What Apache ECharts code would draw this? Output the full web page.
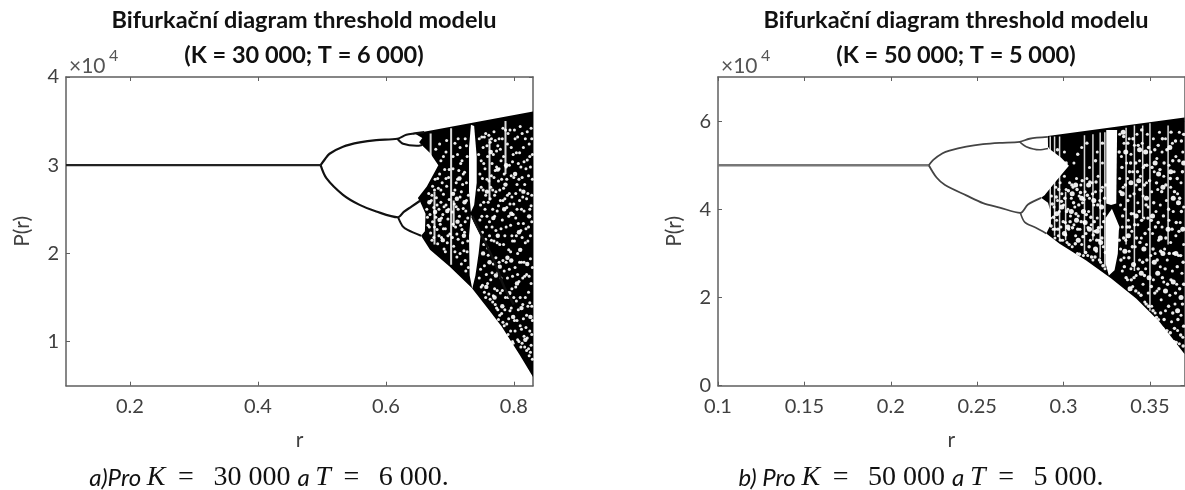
<!DOCTYPE html>
<html><head><meta charset="utf-8">
<style>html,body{margin:0;padding:0;background:#fff}#c{width:1185px;height:490px;filter:blur(0.4px)}</style>
<script src="https://cdn.jsdelivr.net/npm/echarts@6/dist/echarts.min.js"></script>
</head><body><div id="c"></div>
<script>
// ---------- text ----------
const chartTitle = 'Bifurkační diagram threshold modelu';
const subtitleA = '(K = 30 000; T = 6 000)';
const subtitleB = '(K = 50 000; T = 5 000)';
// ---------- ticks ----------
const xTicksA = [0.2, 0.4, 0.6, 0.8];
const yTicksA = [1, 2, 3, 4];
const xTicksB = [0.1, 0.15, 0.2, 0.25, 0.3, 0.35];
const yTicksB = [0, 2, 4, 6];
// ---------- panel a: branches (P in units of 10^4) ----------
const stemA = [[0.1,3],[0.2,3],[0.3,3],[0.4,3],[0.498,3]];
const upperBranchA = [[0.498,3],[0.505,3.07],[0.512,3.13],[0.533,3.21],[0.559,3.258],[0.585,3.285],[0.618,3.30],[0.632,3.345],[0.645,3.36],[0.66,3.375]];
const lowerBranchA = [[0.498,3],[0.507,2.853],[0.533,2.664],[0.559,2.55],[0.585,2.475],[0.619,2.41],[0.628,2.47],[0.64,2.53],[0.654,2.60]];
const subUpperA = [[0.618,3.30],[0.627,3.243],[0.648,3.22],[0.657,3.23]];
const subLowerA = [[0.619,2.41],[0.626,2.31],[0.634,2.267],[0.655,2.2]];
// ---------- panel a: chaotic band outlines ----------
const bandTopA = [[0.645,3.36],[0.83,3.61],[0.83,0.6],[0.81,0.84],[0.781,1.17],[0.76,1.37],[0.734,1.61],[0.70,1.85],[0.669,2.04],[0.655,2.2],[0.661,2.25],[0.662,2.45],[0.654,2.58],[0.65,2.627],[0.664,2.759],[0.682,3.0],[0.669,3.137],[0.656,3.23],[0.652,3.26],[0.657,3.307]];
const windowUpperA = [[0.733,3.46],[0.738,3.445],[0.742,3.1],[0.742,2.8],[0.738,2.55],[0.733,2.47],[0.730,2.7],[0.730,3.2]];
const windowLowerA = [[0.733,2.44],[0.737,2.36],[0.748,2.2],[0.745,2.0],[0.74,1.75],[0.735,1.6],[0.731,1.75],[0.730,2.2]];
const streaksA = [[0.670,2.95,3.36],[0.702,2.4,3.42],[0.702,1.87,2.4],[0.676,2.1,2.7],[0.787,2.9,3.5],[0.706,2.3,2.6],[0.762,2.6,3.3]];
const darkCurveA = [[0.735,2.42],[0.75,2.2],[0.77,1.9],[0.785,1.62],[0.80,1.42]];
const speckSmallA = [
[.664,2.5],[.666,2.32],[.667,2.68],[.669,2.44],[.670,2.23],[.671,2.6],[.673,2.36],[.673,2.76],[.675,2.18],[.675,2.52],[.677,2.84],[.678,2.41],[.679,2.63],[.680,2.27],[.681,2.11],[.682,2.74],[.683,2.5],[.684,2.9],[.685,2.33],[.686,2.58],[.687,2.18],[.688,2.8],[.689,2.44],[.690,2.67],[.691,2.05],[.692,2.95],[.693,2.28],[.694,2.55],[.695,2.76],[.696,2.12],[.697,2.39],[.698,2.86],[.699,2.61],[.700,2.22],[.704,2.47],[.705,2.96],[.706,2.08],[.708,2.72],[.709,2.3],[.710,2.53],[.711,1.96],[.712,2.84],[.713,2.16],[.715,2.42],[.716,2.64],[.717,3.02],[.718,1.88],[.719,2.27],[.720,2.78],[.721,2.51],[.722,2.03],[.723,2.92],[.724,2.36],[.725,1.8],[.726,2.6],[.727,3.1],[.728,2.14],[.716,3.2],[.690,3.1],[.708,3.25],[.695,3.28],[.724,3.3],[.678,3.18],[.712,3.12],
[.746,3.3],[.747,2.9],[.748,2.55],[.748,1.82],[.749,3.05],[.750,2.42],[.751,1.64],[.752,3.2],[.752,2.72],[.753,2.1],[.754,1.56],[.755,2.96],[.755,2.5],[.756,3.36],[.757,1.76],[.757,2.3],[.758,2.84],[.759,3.1],[.760,1.98],[.760,2.58],[.761,1.54],[.762,2.36],[.763,3.26],[.764,1.7],[.764,2.75],[.765,2.15],[.766,3.02],[.767,1.45],[.767,2.5],[.768,1.88],[.769,3.38],[.770,2.66],[.770,1.6],[.771,2.94],[.772,2.26],[.773,1.38],[.773,3.16],[.774,2.48],[.775,1.78],[.776,2.82],[.776,1.25],[.777,3.3],[.778,2.1],[.779,1.55],[.779,2.6],[.780,3.05],[.781,1.32],[.782,2.38],[.783,1.92],[.783,3.42],[.784,2.74],[.785,1.18],[.786,2.2],[.787,1.5],[.788,2.98],[.789,2.52],[.790,1.72],[.790,3.24],[.791,1.08],[.792,2.04],[.793,2.68],[.794,1.35],[.794,3.4],[.795,2.32],[.796,2.88],[.797,1.6],[.798,1.0],[.798,2.14],[.799,3.12],[.800,2.56],[.801,1.24],[.802,1.84],[.802,3.3],[.803,2.4],[.804,1.46],[.805,2.78],[.806,1.02],[.806,2.0],[.807,3.02],[.808,1.68],[.809,2.6],[.810,1.18],[.810,3.44],[.811,2.26],[.812,1.9],[.813,.98],[.813,2.86],[.814,1.42],[.815,3.2],[.816,2.48],[.816,1.06],[.817,1.74],[.818,2.12],[.819,2.96],[.820,.9],[.820,1.3],[.821,3.38],[.822,2.68],[.823,1.56],[.823,2.3],[.824,.84],[.825,1.12],[.825,3.1],[.826,1.94],[.827,2.54],[.827,.96],[.828,1.4],[.828,3.3],[.829,2.84]];
const speckLargeA = [
[.705,2.675],[.711,2.62],[.668,2.58],[.684,2.38],[.696,2.48],[.712,2.36],[.722,2.2],[.689,2.15],[.715,2.85],[.677,2.47],[.723,2.58],
[.752,2.0],[.758,2.7],[.762,1.9],[.768,2.4],[.772,1.75],[.775,2.95],[.778,1.85],[.782,1.4],[.785,2.5],[.788,3.0],[.790,1.95],[.793,1.55],[.796,2.45],[.799,1.28],[.802,2.9],[.805,1.66],[.808,2.24],[.812,1.38],[.815,2.7],[.818,1.02],[.821,1.88],[.824,2.42],[.826,1.28],[.775,2.2],[.764,3.15],[.787,2.78],[.770,1.5],[.796,1.92],[.810,2.04],[.757,1.62]];
const speckExtraA = [
[.665,2.41],[.668,2.3],[.672,2.15],[.672,2.66],[.676,2.3],[.676,2.72],[.680,2.55],[.681,2.85],[.683,2.2],[.686,2.72],[.687,2.4],[.690,2.28],[.691,2.53],[.693,2.02],[.694,2.85],[.697,2.2],[.698,2.5],[.699,2.95],[.704,2.18],[.705,2.33],[.707,2.56],[.708,2.02],[.710,2.8],[.711,2.22],[.713,2.5],[.714,2.94],[.716,2.0],[.717,2.32],[.718,2.7],[.720,2.12],[.721,2.9],[.723,2.24],[.724,1.92],[.725,2.48],[.726,2.8],[.727,2.02],[.728,2.4],[.729,1.84],[.729,2.66],[.686,3.05],[.694,3.15],[.705,3.1],[.713,3.3],[.719,3.05],[.726,3.22],[.684,3.24],
[.745,3.12],[.745,2.72],[.746,1.72],[.747,2.38],[.749,2.75],[.749,1.62],[.750,3.32],[.751,2.85],[.751,2.24],[.753,3.02],[.753,2.58],[.754,1.86],[.754,3.32],[.756,2.66],[.756,2.16],[.756,1.5],[.758,3.22],[.758,2.42],[.759,1.66],[.759,2.06],[.761,2.82],[.761,3.34],[.762,2.2],[.763,2.62],[.763,1.48],[.765,3.3],[.765,2.88],[.766,1.78],[.766,2.3],[.767,2.72],[.768,3.12],[.768,1.52],[.769,2.14],[.769,2.86],[.770,2.42],[.771,1.42],[.771,3.28],[.772,1.95],[.772,2.7],[.773,2.98],[.774,1.58],[.774,2.12],[.775,3.22],[.775,1.36],[.776,2.54],[.777,1.9],[.777,2.96],[.778,1.3],[.778,2.72],[.779,3.18],[.780,2.28],[.780,1.72],[.781,2.84],[.782,1.58],[.782,3.3],[.783,2.6],[.783,1.22],[.784,2.1],[.784,3.1],[.785,1.8],[.785,2.9],[.786,1.36],[.786,2.62],[.787,3.4],[.788,1.9],[.788,2.3],[.789,1.2],[.789,2.84],[.790,2.66],[.791,1.5],[.791,3.36],[.792,2.42],[.792,1.26],[.793,3.0],[.793,1.82],[.794,2.56],[.795,1.12],[.795,2.02],[.796,3.2],[.796,1.38],[.797,2.64],[.797,2.2],[.798,1.74],[.798,3.04],[.799,2.44],[.799,.98],[.800,1.5],[.800,2.86],[.801,2.14],[.801,3.4],[.802,1.12],[.803,2.68],[.803,1.62],[.804,3.14],[.804,2.2],[.805,1.24],[.805,2.5],[.806,1.76],[.806,3.32],[.807,2.34],[.807,1.36],[.808,2.84],[.808,1.0],[.809,1.9],[.809,3.14],[.810,1.5],[.810,2.72],[.811,.94],[.811,2.98],[.812,2.5],[.812,1.14],[.813,2.18],[.813,3.36],[.814,1.72],[.814,2.64],[.815,1.26],[.815,2.34],[.816,3.04],[.816,1.9],[.817,.94],[.817,2.78],[.818,1.5],[.818,3.3],[.819,2.28],[.819,1.16],[.820,2.62],[.820,1.76],[.821,1.04],[.821,3.06],[.822,1.4],[.822,2.14],[.823,2.88],[.823,.92],[.824,1.74],[.824,3.24],[.825,2.5],[.825,1.44],[.826,2.2],[.826,.88],[.826,2.98],[.827,1.66],[.827,3.42],[.828,2.36],[.828,1.08],[.828,2.66],[.829,1.84],[.829,.8],[.829,3.12],[.829,1.24]];
// ---------- panel b: branches ----------
const stemB = [[0.1,5],[0.15,5],[0.2,5],[0.222,5]];
const upperBranchB = [[0.222,5],[0.2246,5.12],[0.23,5.27],[0.234,5.33],[0.2437,5.42],[0.2534,5.476],[0.263,5.507],[0.2746,5.53],[0.2803,5.6],[0.2909,5.64]];
const lowerBranchB = [[0.222,5],[0.2265,4.72],[0.2314,4.55],[0.2437,4.315],[0.2534,4.14],[0.263,4.04],[0.275,3.92],[0.2794,4.11],[0.287,4.26]];
const subUpperB = [[0.2746,5.53],[0.2784,5.42],[0.286,5.35],[0.291,5.38]];
const subLowerB = [[0.275,3.92],[0.2775,3.71],[0.284,3.58],[0.29,3.45]];
// ---------- panel b: chaotic band outlines ----------
const bandTopB = [[0.2909,5.66],[0.37,6.08],[0.37,0.72],[0.3555,1.45],[0.342,1.98],[0.3276,2.43],[0.3131,2.84],[0.2977,3.22],[0.29,3.45],[0.2925,3.65],[0.2925,3.95],[0.291,4.15],[0.287,4.26],[0.289,4.32],[0.2958,4.65],[0.3031,4.99],[0.2986,5.17],[0.2919,5.37],[0.291,5.42]];
const windowUpperB = [[0.3247,5.8],[0.331,5.8],[0.3305,4.13],[0.3275,4.1],[0.3247,4.13]];
const windowLowerB = [[0.3243,3.8],[0.328,4.01],[0.3324,3.6],[0.332,3.52],[0.3314,2.99],[0.3295,2.62],[0.3262,2.5],[0.3243,2.77]];
const streaksB = [[0.2923,3.6,5.65],[0.2948,3.4,5.65],[0.2977,3.3,5.65],[0.3121,3.0,5.68],[0.317,3.3,5.7],[0.3212,2.9,5.74],[0.3239,2.7,5.75],[0.3362,3.2,5.85],[0.341,2.6,5.9],[0.3458,3.8,5.9],[0.35,1.7,5.95],[0.3012,3.3,4.4],[0.3605,3.2,5.9]];
const speckSmallB = [
[.2925,3.8],[.293,4.3],[.294,3.55],[.2945,4.05],[.295,3.35],[.2955,4.5],[.296,3.75],[.2965,4.2],[.297,3.4],[.2975,3.95],[.298,4.6],[.2985,3.6],[.299,4.35],[.2995,3.3],[.300,4.1],[.3005,4.75],[.301,3.7],[.3015,4.45],[.302,3.25],[.3025,4.0],[.303,3.55],[.3035,4.6],[.304,3.85],[.3045,4.25],[.305,3.15],[.3055,4.5],[.306,3.65],[.3065,4.05],[.307,3.4],[.3075,4.7],[.308,3.0],[.3085,3.85],[.309,4.3],[.3095,3.55],[.310,4.55],[.3105,3.2],[.311,4.15],[.3115,2.95],[.312,3.7],[.3125,4.4],[.313,3.45],[.3135,4.7],[.314,2.95],[.3145,3.95],[.315,4.25],[.3155,3.3],[.316,3.65],[.3165,4.6],[.317,2.85],[.3175,4.1],[.318,3.5],[.3185,4.4],[.319,3.05],[.3195,3.8],[.320,4.75],[.3205,3.3],[.321,4.2],[.3215,2.8],[.322,3.6],[.3225,4.5],[.323,3.15],[.3235,3.9],[.324,2.65],[.2955,5.0],[.3005,5.3],[.306,5.05],[.3105,5.4],[.315,4.95],[.3195,5.3],[.3225,5.05],
[.3325,5.7],[.3325,4.7],[.333,3.1],[.333,4.1],[.3335,5.2],[.334,2.6],[.334,3.6],[.3345,4.5],[.335,5.5],[.335,2.9],[.3355,4.0],[.336,3.3],[.3365,5.05],[.337,2.4],[.337,4.7],[.3375,3.75],[.338,5.6],[.338,3.05],[.3385,4.3],[.339,2.65],[.339,5.25],[.3395,3.5],[.340,4.85],[.340,2.25],[.3405,3.9],[.341,5.45],[.3415,3.15],[.342,4.55],[.342,2.5],[.3425,5.7],[.343,3.65],[.343,4.15],[.3435,2.1],[.344,5.1],[.344,2.85],[.3445,4.75],[.345,3.35],[.3455,5.5],[.346,2.3],[.346,4.3],[.3465,3.8],[.347,1.9],[.347,5.0],[.3475,2.65],[.348,4.6],[.348,3.2],[.3485,5.7],[.349,4.05],[.349,2.1],[.3495,3.55],[.3505,2.95],[.3505,5.3],[.351,1.8],[.351,4.4],[.3515,3.45],[.352,5.6],[.352,2.4],[.3525,4.85],[.353,3.0],[.353,1.65],[.3535,3.95],[.354,5.15],[.354,2.15],[.3545,4.45],[.355,3.3],[.355,1.5],[.3555,5.75],[.356,2.7],[.356,4.1],[.3565,1.95],[.357,3.6],[.357,5.3],[.3575,1.3],[.358,4.75],[.358,2.35],[.3585,3.1],[.359,5.6],[.359,1.7],[.3595,4.2],[.360,2.85],[.3605,1.15],[.361,3.75],[.361,5.0],[.3615,2.05],[.362,4.5],[.362,3.25],[.3625,1.45],[.363,5.5],[.363,2.6],[.3635,3.95],[.364,1.0],[.364,4.85],[.3645,1.85],[.365,3.4],[.365,5.2],[.3655,2.3],[.366,4.35],[.366,1.25],[.3665,2.95],[.367,5.75],[.367,.95],[.3675,3.7],[.368,1.6],[.368,4.6],[.3685,2.55],[.369,5.3],[.369,1.1],[.3695,3.2],[.3695,4.05]];
const speckLargeB = [
[.296,3.9],[.299,4.05],[.3025,3.6],[.305,4.35],[.3075,3.75],[.3105,4.25],[.3125,3.7],[.315,3.55],[.3175,4.2],[.3195,3.5],[.322,4.05],[.3085,3.3],[.3145,4.55],[.3005,3.45],[.3185,3.1],[.3115,3.95],[.3045,3.95],[.3215,3.25],[.307,4.55],
[.334,4.35],[.336,5.3],[.3375,3.4],[.339,4.6],[.3405,2.75],[.342,3.85],[.344,5.35],[.345,2.55],[.3465,3.1],[.348,4.25],[.3495,2.45],[.3515,3.85],[.353,5.05],[.3545,2.55],[.356,3.35],[.3575,4.5],[.359,2.15],[.3605,3.55],[.362,4.85],[.3635,2.35],[.365,3.0],[.3665,4.15],[.368,2.0],[.3695,5.05],[.3355,3.05],[.3385,2.2],[.3435,4.65],[.3475,5.3],[.3525,2.8],[.3575,3.0],[.3615,5.4],[.366,1.7],[.369,3.55],[.3345,5.75],[.355,4.8],[.3635,4.25]];
const speckExtraB = [
[.2928,3.62],[.2935,4.12],[.2942,3.82],[.2952,3.55],[.2958,4.28],[.2968,3.55],[.2972,4.45],[.2982,3.3],[.2988,4.18],[.2998,3.72],[.3008,4.25],[.3012,3.42],[.3018,3.95],[.3028,4.42],[.3032,3.2],[.3038,3.72],[.3048,4.55],[.3052,3.58],[.3058,4.15],[.3068,3.22],[.3072,3.9],[.3078,4.45],[.3082,3.55],[.3088,4.1],[.3092,2.98],[.3098,4.38],[.3102,3.72],[.3108,4.65],[.3112,3.38],[.3118,4.22],[.3128,3.02],[.3132,3.88],[.3138,4.32],[.3142,3.58],[.3148,3.15],[.3152,4.62],[.3158,3.82],[.3162,2.92],[.3168,4.35],[.3172,3.42],[.3178,3.72],[.3182,2.92],[.3188,4.62],[.3192,3.3],[.3198,4.1],[.3202,3.58],[.3208,2.85],[.3218,4.42],[.3222,3.35],[.3228,2.72],[.3232,3.72],[.3238,4.25],[.3242,3.02],[.3245,4.55],[.3015,5.05],[.3082,5.25],[.3135,5.5],[.3185,5.1],[.2965,5.35],[.3225,5.5],
[.3322,5.3],[.3322,3.3],[.3328,4.4],[.3332,2.85],[.3338,4.95],[.3342,3.85],[.3348,3.35],[.3348,5.65],[.3352,2.7],[.3358,4.55],[.3362,2.45],[.3368,3.6],[.3372,5.5],[.3372,4.2],[.3378,2.9],[.3382,4.85],[.3382,3.6],[.3388,5.05],[.3392,2.4],[.3392,3.9],[.3398,3.15],[.3402,5.6],[.3408,4.35],[.3408,2.45],[.3412,3.65],[.3418,5.05],[.3418,2.15],[.3422,3.35],[.3428,4.85],[.3432,2.65],[.3432,5.45],[.3438,3.95],[.3442,3.25],[.3442,4.45],[.3448,2.05],[.3452,5.8],[.3452,3.75],[.3458,2.8],[.3462,4.95],[.3468,2.5],[.3468,4.55],[.3472,3.45],[.3478,1.85],[.3478,4.1],[.3482,5.0],[.3482,2.85],[.3488,3.8],[.3492,5.4],[.3492,1.8],[.3498,4.65],[.3508,2.25],[.3508,3.75],[.3512,4.95],[.3518,1.7],[.3518,3.1],[.3522,4.15],[.3528,2.1],[.3528,5.35],[.3532,3.6],[.3538,1.55],[.3538,4.6],[.3542,2.85],[.3548,5.45],[.3548,3.7],[.3552,2.2],[.3558,4.9],[.3562,1.65],[.3562,3.05],[.3568,4.4],[.3572,2.45],[.3572,5.6],[.3578,3.85],[.3582,1.5],[.3582,5.05],[.3588,2.65],[.3592,4.55],[.3592,3.35],[.3598,1.25],[.3598,5.35],[.3602,2.3],[.3608,4.0],[.3608,1.8],[.3612,3.0],[.3618,4.7],[.3618,1.2],[.3622,5.75],[.3622,2.4],[.3628,3.55],[.3632,1.65],[.3632,5.1],[.3638,3.0],[.3642,4.4],[.3642,1.3],[.3648,2.1],[.3648,5.55],[.3652,3.7],[.3652,.98],[.3658,2.7],[.3658,4.7],[.3662,1.5],[.3668,3.5],[.3668,5.1],[.3672,2.2],[.3672,4.25],[.3678,1.15],[.3678,2.95],[.3682,5.55],[.3682,3.95],[.3688,1.85],[.3688,4.85],[.3692,2.8],[.3692,.9],[.3695,5.7],[.3695,1.35],[.3695,2.3]];

// ---------- helpers ----------
const polygon = (pts, color, x, y, z) => ({
  type:'custom', xAxisIndex:x, yAxisIndex:y, data:pts, z, silent:true, clip:true,
  renderItem:(p, api) => p.dataIndex === 0
    ? {type:'polygon', shape:{points:pts.map(d => api.coord(d))}, style:{fill:color}}
    : null
});
const streakSeries = (rows, x, y, width) => ({
  type:'custom', xAxisIndex:x, yAxisIndex:y, data:rows, z:4, silent:true, clip:true,
  renderItem:(p, api) => {
    const a = api.coord([api.value(0), api.value(1)]);
    const b = api.coord([api.value(0), api.value(2)]);
    return {type:'line', shape:{x1:a[0],y1:a[1],x2:b[0],y2:b[1]}, style:{stroke:'#fff',lineWidth:width,opacity:.85}};
  }
});
const curve = (pts, x, y, color, width, z, type) => ({
  type:'line', xAxisIndex:x, yAxisIndex:y, data:pts, smooth:.3, showSymbol:false, silent:true, z,
  lineStyle:{color, width, type:type||'solid'}
});
const dots = (pts, x, y, size) => ({
  type:'scatter', xAxisIndex:x, yAxisIndex:y, data:pts, symbolSize:size, silent:true, z:5,
  itemStyle:{color:'#fff',opacity:.92}
});
const axisColor = '#5f5f5f', labelColor = '#404040', fam = 'Lato';
const xAxisPair = (grid, min, max, ticks) => [0,1].map(i => ({
  type:'value', gridIndex:grid, min, max, position:i ? 'top' : 'bottom', splitLine:{show:false},
  name:i ? '' : 'r', nameLocation:'middle', nameGap:44,
  nameTextStyle:{fontFamily:fam,fontSize:21,color:labelColor},
  axisLine:{show:true,onZero:false,lineStyle:{color:axisColor,width:1.5}},
  axisTick:{show:true,inside:true,length:4,customValues:ticks,lineStyle:{color:axisColor}},
  axisLabel:{show:!i,customValues:ticks,margin:11,fontFamily:fam,fontSize:20,color:labelColor,showMinLabel:true,showMaxLabel:true}
}));
const yAxisPair = (grid, min, max, ticks, gap) => [0,1].map(i => ({
  type:'value', gridIndex:grid, min, max, position:i ? 'right' : 'left', splitLine:{show:false},
  name:i ? '' : 'P(r)', nameLocation:'middle', nameGap:gap,
  nameTextStyle:{fontFamily:fam,fontSize:21,color:labelColor},
  axisLine:{show:true,onZero:false,lineStyle:{color:axisColor,width:1.5}},
  axisTick:{show:true,inside:true,length:4,customValues:ticks,lineStyle:{color:axisColor}},
  axisLabel:{show:!i,customValues:ticks,margin:7,fontFamily:fam,fontSize:20,color:labelColor,showMinLabel:true,showMaxLabel:true}
}));
const heading = (text, cx, top, size) => ({
  text, left:cx, top, textAlign:'center',
  textStyle:{fontFamily:fam,fontWeight:'bold',fontSize:size,color:'#111'}
});
const capRich = {
  a:{fontFamily:fam,fontStyle:'italic',fontWeight:'normal',fontSize:24,color:'#111'},
  m:{fontFamily:'Liberation Serif',fontStyle:'italic',fontWeight:'normal',fontSize:28,color:'#111'},
  n:{fontFamily:'Liberation Serif',fontWeight:'normal',fontSize:28,color:'#111'}
};
const caption = (text, cx) => ({
  text, left:cx, top:459, textAlign:'center', textStyle:{rich:capRich}
});
const expo = (x) => [
  {text:'×10', left:x, top:51, textStyle:{fontFamily:fam,fontSize:21,fontWeight:'normal',color:'#555'}},
  {text:'4', left:x+40, top:43, textStyle:{fontFamily:fam,fontSize:16,fontWeight:'normal',color:'#555'}}
];

const option = {
  animation:false,
  backgroundColor:'#fff',
  title:[
    heading(chartTitle,299,3,23.5), heading(subtitleA,299,38,23.5),
    heading(chartTitle,951,3,23.5), heading(subtitleB,951,38,23.5),
    ...expo(64), ...expo(716),
    caption('{a|a)Pro }{m|K}{n|\u2009 = \u2009 30 000 }{a|a }{m|T}{n|\u2009 = \u2009 6 000.}',264),
    caption('{a|b) Pro }{m|K}{n|\u2009 = \u2009 50 000 }{a|a }{m|T}{n|\u2009 = \u2009 5 000.}',916)
  ],
  grid:[
    {left:66,top:77,width:467,height:308.7,show:false},
    {left:718,top:77,width:466.5,height:308.7,show:false}
  ],
  xAxis:[...xAxisPair(0,0.1,0.83,xTicksA), ...xAxisPair(1,0.1,0.37,xTicksB)],
  yAxis:[...yAxisPair(0,0.5,4,yTicksA,33), ...yAxisPair(1,0,7,yTicksB,33)],
  series:[
    curve(stemA,0,0,'#222',2.2,3),
    curve(upperBranchA,0,0,'#111',2.2,3),
    curve(lowerBranchA,0,0,'#111',2.2,3),
    curve(subUpperA,0,0,'#111',2,3),
    curve(subLowerA,0,0,'#111',2,3),
    polygon(bandTopA,'#000',0,0,2),
    polygon(windowUpperA,'#fff',0,0,6),
    polygon(windowLowerA,'#fff',0,0,6),
    streakSeries(streaksA,0,0,2),
    dots(speckSmallA,0,0,3),
    dots(speckExtraA,0,0,3),
    dots(speckLargeA,0,0,4.4),
    curve(darkCurveA,0,0,'#111',2.4,7),

    curve(stemB,2,2,'#777',2.6,3),
    curve(upperBranchB,2,2,'#444',1.8,3),
    curve(lowerBranchB,2,2,'#444',1.8,3),
    curve(subUpperB,2,2,'#444',1.6,3),
    curve(subLowerB,2,2,'#444',1.6,3),
    polygon(bandTopB,'#000',2,2,2),
    polygon(windowUpperB,'#fff',2,2,6),
    polygon(windowLowerB,'#fff',2,2,6),
    streakSeries(streaksB,2,2,1.5),
    dots(speckSmallB,2,2,3),
    dots(speckExtraB,2,2,3.4),
    dots(speckLargeB,2,2,5)
  ]
};
echarts.init(document.getElementById('c'),null,{renderer:'canvas'}).setOption(option);
</script></body></html>
